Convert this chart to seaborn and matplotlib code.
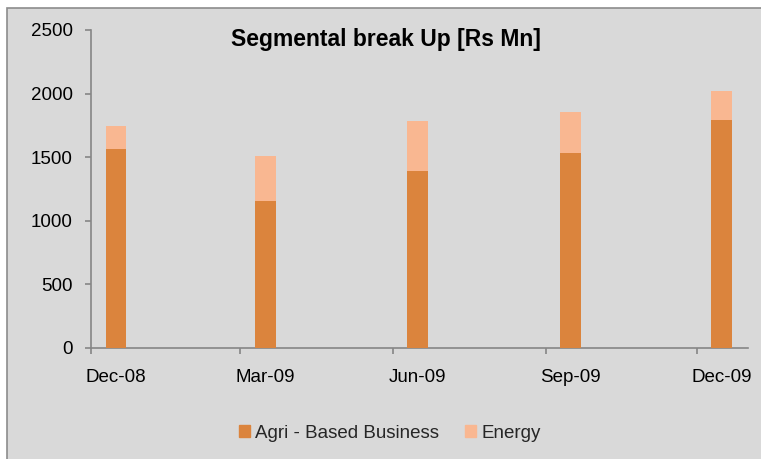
"""
Segmental break up chart (Rs Mn), quarterly
"""
import pandas as pd
import numpy as np
import matplotlib
matplotlib.use('Agg')
import matplotlib.pyplot as plt
import matplotlib.dates as mdates
import matplotlib.patches as mpatches
import seaborn as sns

# ── DATA ─────────────────────────────────────────────────────────────────────
quarters = ['Dec-08', 'Mar-09', 'Jun-09', 'Sep-09', 'Dec-09']
agri     = [1568, 1158, 1395, 1533, 1793]
energy   = [178, 352, 388, 322, 225]

# ── COLORS ───────────────────────────────────────────────────────────────────
AGRI   = '#DB843D'
ENERGY = '#F9B791'
BG     = '#D9D9D9'
AXIS   = '#868686'

sns.set_theme(style='white')
plt.rcParams['font.family'] = ['Liberation Sans', 'DejaVu Sans']

# excel date axis: tick marks on the 1st, bars + labels in the middle of the month
month_start = pd.to_datetime(quarters, format='%b-%y')
bar_dates = month_start + pd.Timedelta(days=15)
df = pd.DataFrame({
    'x': mdates.date2num(bar_dates.to_pydatetime()),
    'agri': agri,
    'total': np.array(agri) + np.array(energy),
})

fig = plt.figure(figsize=(7.61, 4.59), dpi=100)
fig.patch.set_facecolor('white')
fig.add_artist(mpatches.Rectangle((7 / 761, -0.01), 1.0, 1 - 8 / 459 + 0.01,
                                  transform=fig.transFigure, facecolor=BG,
                                  edgecolor='#8C8C8C', lw=1.2, zorder=0))

ax = fig.add_axes([91 / 761, 1 - 348 / 459, (748 - 91) / 761, (348 - 30) / 459])
ax.set_facecolor('none')

bw = 0.139
sns.barplot(data=df, x='x', y='total', native_scale=True, color=ENERGY,
            saturation=1, width=bw, errorbar=None, linewidth=0, ax=ax, zorder=2)
sns.barplot(data=df, x='x', y='agri', native_scale=True, color=AGRI,
            saturation=1, width=bw, errorbar=None, linewidth=0, ax=ax, zorder=3)

ax.set_xlim(mdates.date2num(month_start[0].to_pydatetime()),
            mdates.date2num((month_start[-1] + pd.DateOffset(months=1)).to_pydatetime()))
ax.set_xticks(df['x'])
ax.set_xticklabels(quarters)
ax.set_xticks(mdates.date2num(month_start.to_pydatetime()), minor=True)
ax.set_ylim(0, 2500)
ax.set_yticks(range(0, 2501, 500))
ax.set_xlabel('')
ax.set_ylabel('')

for s in ['top', 'right']:
    ax.spines[s].set_visible(False)
for s in ['left', 'bottom']:
    ax.spines[s].set_color(AXIS)
    ax.spines[s].set_linewidth(1.2)
ax.tick_params(axis='both', which='both', direction='out', length=4,
               width=1.2, color=AXIS, labelsize=13.5, labelcolor='black')
ax.tick_params(axis='x', which='major', length=0, pad=15)
ax.tick_params(axis='x', which='minor', bottom=True)
ax.tick_params(axis='y', pad=9, left=True)
ax.grid(False)

fig.text(0.507, 0.913, 'Segmental break Up [Rs Mn]', ha='center', va='center',
         fontsize=16.5, fontweight='bold', color='black')

handles = [mpatches.Patch(color=AGRI, label='Agri - Based Business'),
           mpatches.Patch(color=ENERGY, label='Energy')]
fig.legend(handles=handles, loc='center', bbox_to_anchor=(390 / 761, 1 - 433 / 459),
           ncol=2, frameon=False, fontsize=13.5, handlelength=0.55,
           handleheight=0.55, handletextpad=0.3, columnspacing=1.4)

plt.savefig('out.png', dpi=100)
plt.close()
